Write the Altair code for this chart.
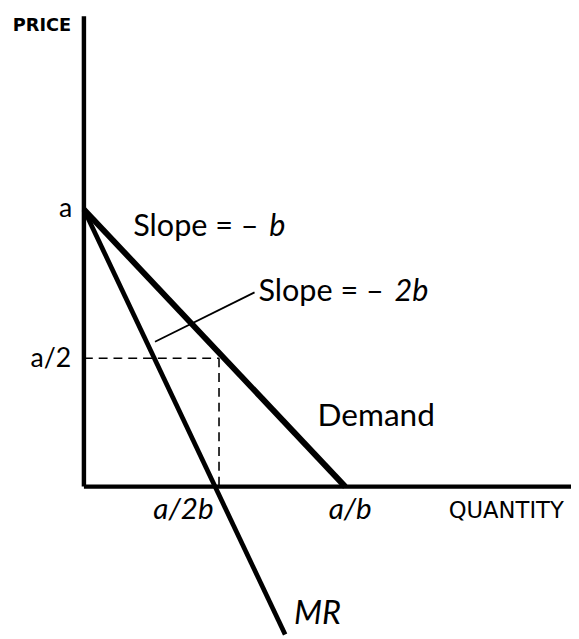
import altair as alt
import pandas as pd

# ---- data (quantity q, price p; a = 1, b = 1) ----
# solid thick segments: y-axis, x-axis, demand, marginal revenue
seg_names = ["yaxis", "xaxis", "demand", "mr"]
seg_q = [0.0, 0.0, 0.0, 0.0]
seg_p = [0.0, 0.0, 1.0, 1.0]
seg_q2 = [0.0, 1.864, 1.0, 0.77]
seg_p2 = [1.697, 0.0, 0.0, -0.534]
seg_w = [4.5, 4.5, 6.0, 4.8]

# dashed guide lines to a/2 and a/2b
dash_q = [0.0, 0.517]
dash_p = [0.463, 0.463]
dash_q2 = [0.517, 0.517]
dash_p2 = [0.463, 0.0]

# leader line from "Slope = -2b" to MR
lead_q = [0.272]
lead_p = [0.523]
lead_q2 = [0.653]
lead_p2 = [0.701]

# labels
lab_text = ["PRICE", "a", "a/2", "Slope = \u2013", "b", "Slope = \u2013", "2b",
            "Demand", "a/2b", "a/b", "QUANTITY", "MR"]
lab_q = [-0.272, -0.045, -0.049, 0.189, 0.709, 0.668, 1.189,
         0.894, 0.381, 1.019, 1.396, 0.804]
lab_p = [1.662, 1.0, 0.46, 0.936, 0.936, 0.701, 0.701,
         0.256, -0.085, -0.085, -0.09, -0.459]
lab_align = ["left", "right", "right", "left", "left", "left", "left",
             "left", "center", "center", "left", "left"]
lab_style = ["normal", "normal", "normal", "normal", "italic", "normal", "italic",
             "normal", "italic", "italic", "normal", "italic"]
lab_font = ["DejaVu Sans", "Lato", "Lato", "Lato", "Lato", "Lato", "Lato",
            "Lato", "Lato", "Lato", "DejaVu Sans", "Lato"]
lab_weight = ["bold", "normal", "normal", "normal", "normal", "normal", "normal",
              "normal", "normal", "normal", "normal", "normal"]
lab_size = [18, 27, 27, 31, 31, 31, 31, 32, 30, 30, 23, 33]

segs = pd.DataFrame({"name": seg_names, "q": seg_q, "p": seg_p,
                     "q2": seg_q2, "p2": seg_p2, "w": seg_w})
dashes = pd.DataFrame({"q": dash_q, "p": dash_p, "q2": dash_q2, "p2": dash_p2})
leads = pd.DataFrame({"q": lead_q, "p": lead_p, "q2": lead_q2, "p2": lead_p2})
labels = pd.DataFrame({"text": lab_text, "q": lab_q, "p": lab_p, "align": lab_align,
                       "style": lab_style, "size": lab_size, "font": lab_font,
                       "weight": lab_weight})

xs = alt.Scale(domain=[0, 1.864], nice=False, zero=False)
ys = alt.Scale(domain=[-0.534, 1.697], nice=False, zero=False)
X = alt.X("q:Q", scale=xs, axis=None)
Y = alt.Y("p:Q", scale=ys, axis=None)

solid = alt.Chart(segs).mark_rule(color="black", strokeCap="butt").encode(
    x=X, y=Y, x2="q2:Q", y2="p2:Q",
    strokeWidth=alt.StrokeWidth("w:Q", scale=None, legend=None),
)
dashed = alt.Chart(dashes).mark_rule(color="black", strokeWidth=1.6,
                                      strokeDash=[9, 6]).encode(
    x=X, y=Y, x2="q2:Q", y2="p2:Q")
leader = alt.Chart(leads).mark_rule(color="black", strokeWidth=1.8).encode(
    x=X, y=Y, x2="q2:Q", y2="p2:Q")

layers = [solid, dashed, leader]
for al in ["left", "right", "center"]:
    for st in ["normal", "italic"]:
        for fn in ["Lato", "DejaVu Sans"]:
            for wt in ["normal", "bold"]:
                part = labels[(labels["align"] == al) & (labels["style"] == st)
                              & (labels["font"] == fn) & (labels["weight"] == wt)]
                if len(part) == 0:
                    continue
                layers.append(
                    alt.Chart(part).mark_text(align=al, baseline="middle", font=fn,
                                              fontStyle=st, fontWeight=wt,
                                              color="black").encode(
                        x=X, y=Y, text="text:N",
                        size=alt.Size("size:Q", scale=None, legend=None))
                )

chart = alt.layer(*layers).properties(
    width=494, height=627,
    autosize=alt.AutoSizeParams(type="none"),
    padding={"left": 77, "top": 4, "right": 0, "bottom": 0},
).configure_view(stroke=None)

chart.save("out.html", embed_options={"renderer": "svg", "actions": False})
